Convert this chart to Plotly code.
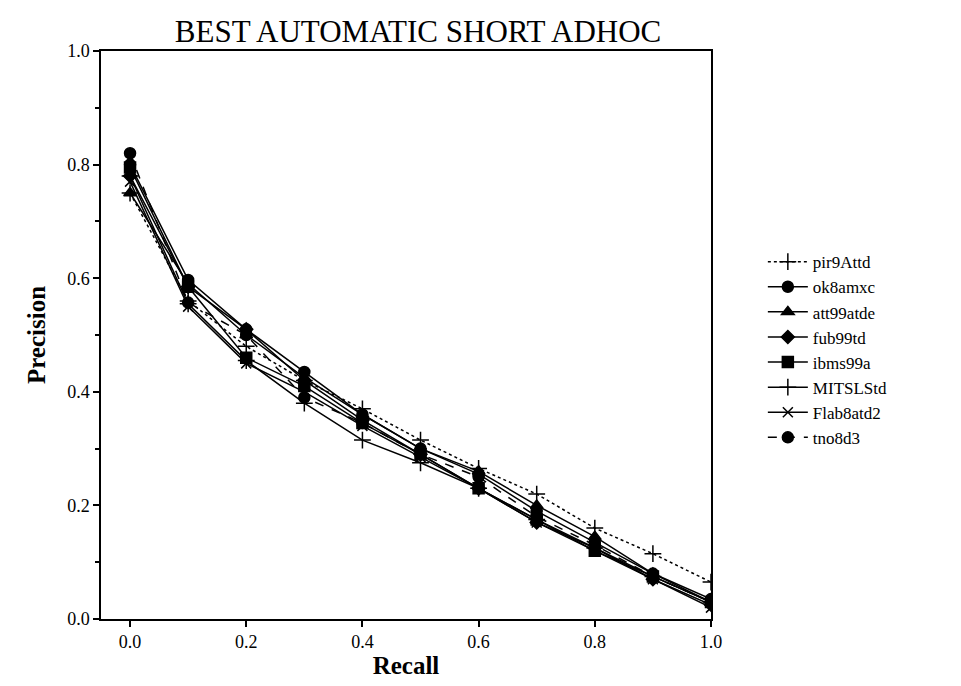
import plotly.graph_objects as go

recall = [0.0, 0.1, 0.2, 0.3, 0.4, 0.5, 0.6, 0.7, 0.8, 0.9, 1.0]

pir9Attd  = [0.750, 0.560, 0.480, 0.420, 0.370, 0.315, 0.265, 0.220, 0.160, 0.115, 0.065]
ok8amxc   = [0.800, 0.597, 0.510, 0.435, 0.360, 0.300, 0.255, 0.190, 0.135, 0.080, 0.035]
att99atde = [0.750, 0.590, 0.500, 0.425, 0.360, 0.300, 0.260, 0.200, 0.145, 0.080, 0.030]
fub99td   = [0.780, 0.585, 0.510, 0.420, 0.350, 0.290, 0.230, 0.170, 0.125, 0.070, 0.025]
ibms99a   = [0.795, 0.585, 0.460, 0.410, 0.345, 0.290, 0.230, 0.175, 0.120, 0.075, 0.030]
MITSLStd  = [0.780, 0.555, 0.455, 0.380, 0.315, 0.275, 0.230, 0.175, 0.125, 0.075, 0.030]
Flab8atd2 = [0.770, 0.550, 0.450, 0.400, 0.340, 0.285, 0.230, 0.170, 0.120, 0.070, 0.020]
tno8d3    = [0.820, 0.557, 0.500, 0.390, 0.345, 0.290, 0.250, 0.180, 0.130, 0.075, 0.030]

tick_vals = [0, 0.2, 0.4, 0.6, 0.8, 1.0]
tick_text = ["0.0", "0.2", "0.4", "0.6", "0.8", "1.0"]

series = [
    ("pir9Attd", pir9Attd, "cross-thin", "dot", 12),
    ("ok8amxc", ok8amxc, "circle", "solid", 11),
    ("att99atde", att99atde, "triangle-up", "solid", 11),
    ("fub99td", fub99td, "diamond", "solid", 10),
    ("ibms99a", ibms99a, "square", "solid", 11),
    ("MITSLStd", MITSLStd, "cross-thin", "solid", 12),
    ("Flab8atd2", Flab8atd2, "x-thin", "solid", 10),
    ("tno8d3", tno8d3, "circle", "dash", 11),
]

fig = go.Figure()
for name, vals, sym, dash, size in series:
    fig.add_trace(go.Scatter(
        x=recall, y=vals, name=name, mode="lines+markers",
        line=dict(color="black", width=1.5, dash=dash),
        marker=dict(symbol=sym, size=size, color="black",
                    line=dict(color="black", width=1.5)),
    ))

font = "Liberation Serif, Times New Roman, serif"
fig.update_layout(
    width=961, height=686,
    margin=dict(l=101, r=250, t=51, b=64),
    paper_bgcolor="white", plot_bgcolor="white",
    font=dict(family=font, size=18, color="black"),
    title=dict(text="BEST AUTOMATIC SHORT ADHOC", x=0.435, xanchor="center",
               y=0.955, yanchor="middle", font=dict(size=31, family=font)),
    legend=dict(x=1.085, y=0.66, xanchor="left", yanchor="top",
                font=dict(size=17, family=font), tracegroupgap=0,
                itemwidth=40, bgcolor="rgba(0,0,0,0)"),
    showlegend=True,
)
fig.update_xaxes(
    range=[-0.05, 1.0], tickvals=tick_vals, ticktext=tick_text,
    ticks="outside", ticklen=6, tickwidth=1.5, tickcolor="black",
    showline=True, linecolor="black", linewidth=1.5, mirror=True,
    showgrid=False, zeroline=False,
    title=dict(text="<b>Recall</b>", font=dict(size=25, family=font), standoff=4),
    tickfont=dict(size=18, family=font),
)
fig.update_yaxes(
    range=[0, 1.0], tickvals=tick_vals, ticktext=tick_text,
    ticks="outside", ticklen=6, tickwidth=1.5, tickcolor="black",
    minor=dict(tickvals=[0.1, 0.3, 0.5, 0.7, 0.9], ticks="outside",
               ticklen=4, tickwidth=1.5, tickcolor="black"),
    showline=True, linecolor="black", linewidth=1.5, mirror=True,
    showgrid=False, zeroline=False,
    title=dict(text="<b>Precision</b>", font=dict(size=25, family=font), standoff=14),
    tickfont=dict(size=18, family=font),
)

fig.write_html("out.html")
